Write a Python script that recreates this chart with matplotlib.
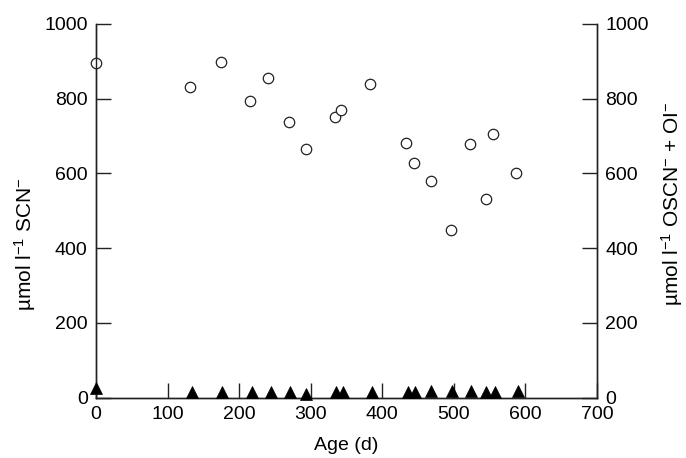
import matplotlib
matplotlib.use("Agg")
import matplotlib.pyplot as plt

plt.rcParams['font.family'] = ['Liberation Sans', 'DejaVu Sans']
plt.rcParams['mathtext.fontset'] = 'custom'
plt.rcParams['mathtext.rm'] = 'Liberation Sans'
plt.rcParams['mathtext.it'] = 'Liberation Sans:italic'
plt.rcParams['mathtext.bf'] = 'Liberation Sans:bold'

# SCN- (open circles, left axis)
scn_age = [0, 131, 174, 215, 241, 270, 293, 334, 342, 383, 433, 445, 468, 496, 523, 545, 555, 587]
scn_val = [895, 830, 899, 793, 856, 738, 664, 752, 770, 840, 681, 627, 580, 449, 678, 530, 705, 601]

# OSCN- + OI- (filled triangles, right axis)
osc_age = [0, 134, 176, 218, 244, 271, 294, 336, 345, 386, 436, 446, 468, 498, 524, 545, 557, 590]
osc_val = [25, 15, 15, 15, 15, 15, 10, 15, 15, 15, 15, 15, 18, 18, 18, 15, 15, 18]

x_ticks = [0, 100, 200, 300, 400, 500, 600, 700]
y_ticks = [0, 200, 400, 600, 800, 1000]

fig = plt.figure(figsize=(6.86, 4.58), dpi=100)
ax = fig.add_axes([0.140, 0.132, 0.730, 0.816])
ax2 = ax.twinx()

ax.plot(scn_age, scn_val, linestyle='none', marker='o', markersize=7.5,
        markerfacecolor='white', markeredgecolor='#222222', markeredgewidth=0.9,
        zorder=5, clip_on=False)
ax2.plot(osc_age, osc_val, linestyle='none', marker='^', markersize=9,
         markerfacecolor='black', markeredgecolor='black', markeredgewidth=0.5,
         zorder=5, clip_on=False)

for a in (ax, ax2):
    a.set_xlim(0, 700)
    a.set_ylim(0, 1000)
    a.set_yticks(y_ticks)
    a.spines['top'].set_visible(False)
    for s in a.spines.values():
        s.set_linewidth(1.0)
        s.set_color('#222222')

ax.set_xticks(x_ticks)
ax.tick_params(axis='x', direction='in', length=10.5, width=1.0, pad=6,
               labelsize=14, color='#222222', top=False)
ax.tick_params(axis='y', direction='in', length=10.5, width=1.0, pad=6,
               labelsize=14, color='#222222', right=False)
ax2.tick_params(axis='y', direction='in', length=10.5, width=1.0, pad=6,
                labelsize=14, color='#222222', left=False)

ax.set_xlabel('Age (d)', fontsize=14)
ax.xaxis.set_label_coords(0.5, -0.105)
ax.set_ylabel(r'µmol l$^{-1}$ SCN$^{-}$', fontsize=15)
ax.yaxis.set_label_coords(-0.116, 0.41)
ax2.set_ylabel(r'µmol l$^{-1}$ OSCN$^{-}$ + OI$^{-}$', fontsize=15)
ax2.yaxis.set_label_coords(1.124, 0.52)

fig.savefig('out.png', dpi=100)
